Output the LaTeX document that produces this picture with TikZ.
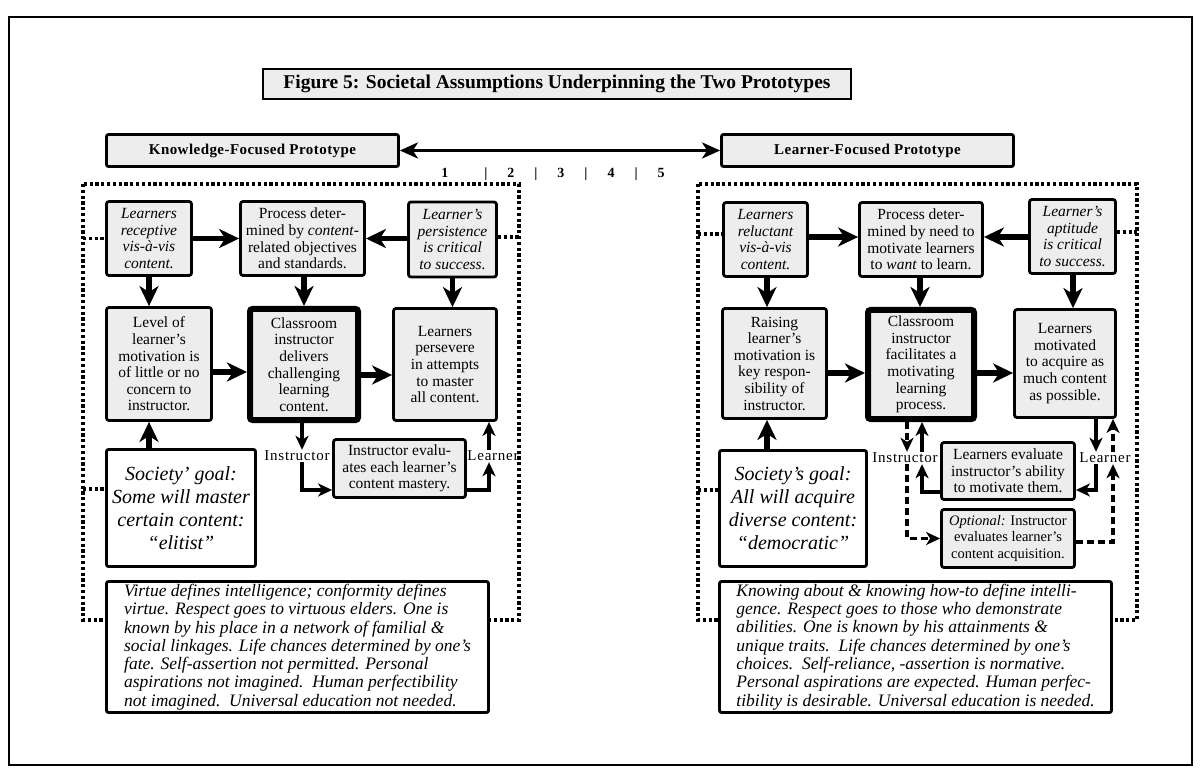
\documentclass[tikz,border=0pt]{standalone}
\usepackage{fontspec}
\setmainfont{Liberation Serif}
\usetikzlibrary{arrows.meta,calc}
\definecolor{boxgray}{gray}{0.93}
\newcommand\fsz[2]{\fontsize{#1pt}{#2pt}\selectfont}

\begin{document}
\begin{tikzpicture}[x=1pt,y=-1pt,
  box/.style={draw, line width=2.8pt, rounded corners=2.5pt, fill=boxgray,
    align=center, inner sep=1pt, font=\fsz{15.5}{16.6}},
  ibox/.style={box, font=\fsz{15.5}{16.6}\itshape},
  heavybox/.style={box, line width=6pt},
  goalbox/.style={draw, line width=2.8pt, rounded corners=2pt, fill=white,
    align=center, font=\fsz{20}{23}\itshape},
  notebox/.style={draw, line width=2.8pt, rounded corners=2pt, fill=white,
    align=left, inner sep=0pt, font=\fsz{17.5}{18.3}\itshape},
  header/.style={draw, line width=2.8pt, rounded corners=2pt, fill=boxgray,
    font=\fsz{15}{17}\bfseries\addfontfeature{LetterSpace=3}},
  tag/.style={inner sep=1pt, font=\fsz{15}{16}\addfontfeature{LetterSpace=5}},
  bigarrow/.style={line width=5.5pt, -{Stealth[length=20pt,width=19pt,inset=6pt]}},
  looparrow/.style={line width=3.5pt, -{Stealth[length=14pt,width=13pt,inset=4pt]}},
  dashloop/.style={looparrow, dash pattern=on 7pt off 4pt},
  boundary/.style={line width=3.2pt, dash pattern=on 3.2pt off 2.6pt},
]
\useasboundingbox (0,0) rectangle (1201,775);
\draw[line width=1.8pt] (9,17) rectangle (1192,765);

% title and the two prototype headers
\node[draw, line width=2pt, fill=boxgray, minimum width=588pt, minimum height=30pt,
  font=\fsz{19.5}{21}\bfseries] (title) at (557,84)
  {Figure 5: Societal Assumptions Underpinning the Two Prototypes};
\node[header, minimum width=292pt, minimum height=32pt] (kHead) at (252.5,150.5)
  {Knowledge-Focused Prototype};
\node[header, minimum width=292pt, minimum height=32pt] (lHead) at (867.5,150.5)
  {Learner-Focused Prototype};
\draw[line width=3.5pt, {Stealth[length=18pt,width=16pt,inset=5pt]}-{Stealth[length=18pt,width=16pt,inset=5pt]}]
  (kHead.east) -- (lHead.west);
\node[font=\fsz{14}{16}\bfseries] (scale) at (553,174)
  {1\hspace{36pt}|\hspace{20pt}2\hspace{20pt}|\hspace{20pt}3\hspace{20pt}|\hspace{20pt}4\hspace{20pt}|\hspace{20pt}5};

% ---------------- knowledge-focused panel ----------------
\draw[boundary] (83,184) rectangle (519,620);
\coordinate (kbl) at (83,0);
\coordinate (kbr) at (519,0);

\node[ibox, minimum width=85pt, minimum height=74pt] (kA) at (149,238.5)
  {Learners\\receptive\\vis-à-vis\\content.};
\node[box, minimum width=124pt, minimum height=74pt] (kB) at (302.5,238.5)
  {Process deter-\\mined by \textit{content}-\\related objectives\\and standards.};
\node[ibox, minimum width=88pt, minimum height=75pt] (kC) at (452.5,239.5)
  {Learner's\\persistence\\is critical\\to success.};
\node[box, minimum width=105pt, minimum height=113pt] (kD) at (159,364)
  {Level of\\learner's\\motivation is\\of little or no\\concern to\\instructor.};
\node[heavybox, minimum width=108pt, minimum height=111pt] (kE) at (304,364.5)
  {Classroom\\instructor\\delivers\\challenging\\learning\\content.};
\node[box, minimum width=103pt, minimum height=112pt] (kF) at (445,364.5)
  {Learners\\persevere\\in attempts\\to master\\all content.};
\node[box, minimum width=132pt, minimum height=58pt] (kG) at (399.5,468.5)
  {Instructor evalu-\\ates each learner's\\content mastery.};
\node[goalbox, minimum width=149pt, minimum height=117pt] (kH) at (181,508)
  {Society' goal:\\Some will master\\certain content:\\“elitist”};
\node[notebox, minimum width=382pt, minimum height=131pt] (kI) at (297.5,647)
  {Virtue defines intelligence; conformity defines\\
   virtue. Respect goes to virtuous elders. One is\\
   known by his place in a network of familial \&\\
   social linkages. Life chances determined by one's\\
   fate. Self-assertion not permitted. Personal\\
   aspirations not imagined.\ \ Human perfectibility\\
   not imagined.\ \ Universal education not needed.};
\node[tag] (kTi) at (297,456) {Instructor};
\node[tag] (kTl) at (493,456) {Learner};

\draw[boundary] (kbl |- kA.west) -- (kA.west);
\draw[boundary] (kC.east |- 0,237) -- (kbr |- 0,237);
\draw[boundary] (kbl |- 0,489) -- (kH.west |- 0,489);

\draw[bigarrow] (kA) -- (kB);
\draw[bigarrow] (kC.west |- kB.east) -- (kB.east);
\draw[bigarrow] (kA.south) -- (kA.south |- kD.north);
\draw[bigarrow] (kE.north |- kB.south) -- (kE.north);
\draw[bigarrow] (kC.south) -- (kC.south |- kF.north);
\draw[bigarrow] (kD.east |- 0,372) -- (kE.west |- 0,372);
\draw[bigarrow] (kE.east |- 0,375) -- (kF.west |- 0,375);
\draw[bigarrow] (kH.north -| kA.south) -- (kD.south -| kA.south);

\draw[looparrow] (kE.south -| 302,0) -- (kTi.north -| 302,0);
\draw[looparrow] (kTi.south -| 302,0) |- (kG.west |- 0,490);
\draw[looparrow] (kG.east |- 0,490) -| (kTl.south -| 489,0);
\draw[looparrow] (kTl.north -| 489,0) -- (kF.south -| 489,0);

% ---------------- learner-focused panel ----------------
\draw[boundary] (698,184) rectangle (1137,620);
\coordinate (lbl) at (698,0);
\coordinate (lbr) at (1137,0);

\node[ibox, minimum width=84pt, minimum height=74pt] (lA) at (765.5,239.5)
  {Learners\\reluctant\\vis-à-vis\\content.};
\node[box, minimum width=123pt, minimum height=74pt] (lB) at (921,239.5)
  {Process deter-\\mined by need to\\motivate learners\\to \textit{want} to learn.};
\node[ibox, minimum width=86pt, minimum height=74pt] (lC) at (1072.5,236.5)
  {Learner's\\aptitude\\is critical\\to success.};
\node[box, minimum width=104pt, minimum height=110pt] (lD) at (774.5,363.5)
  {Raising\\learner's\\motivation is\\key respon-\\sibility of\\instructor.};
\node[heavybox, minimum width=106pt, minimum height=109pt] (lE) at (921,364.5)
  {Classroom\\instructor\\facilitates a\\motivating\\learning\\process.};
\node[box, minimum width=101pt, minimum height=108pt] (lF) at (1065,363.5)
  {Learners\\motivated\\to acquire as\\much content\\as possible.};
\node[box, minimum width=133pt, minimum height=57pt] (lG) at (1008,471)
  {Learners evaluate\\instructor's ability\\to motivate them.};
\node[box, minimum width=133pt, minimum height=58pt, font=\fsz{14.5}{16.6}] (lH) at (1008,538.5)
  {\textit{Optional:} Instructor\\evaluates learner's\\content acquisition.};
\node[goalbox, minimum width=147pt, minimum height=116pt] (lJ) at (793,508.5)
  {Society's goal:\\All will acquire\\diverse content:\\“democratic”};
\node[notebox, minimum width=392pt, minimum height=131pt] (lK) at (915.5,647)
  {Knowing about \& knowing how-to define intelli-\\
   gence. Respect goes to those who demonstrate\\
   abilities. One is known by his attainments \&\\
   unique traits.\ \ Life chances determined by one's\\
   choices.\ \ Self-reliance, -assertion is normative.\\
   Personal aspirations are expected. Human perfec-\\
   tibility is desirable. Universal education is needed.};
\node[tag] (lTi) at (905,458) {Instructor};
\node[tag] (lTl) at (1105,458) {Learner};

\draw[boundary] (lbl |- 0,234) -- (lA.west |- 0,234);
\draw[boundary] (lC.east |- 0,232) -- (lbr |- 0,232);
\draw[boundary] (lbl |- 0,490) -- (lJ.west |- 0,490);

\draw[bigarrow] (lA.east |- 0,237) -- (lB.west |- 0,237);
\draw[bigarrow] (lC.west |- 0,237) -- (lB.east |- 0,237);
\draw[bigarrow] (lA.south -| 767,0) -- (lD.north -| 767,0);
\draw[bigarrow] (lB.south -| 920,0) -- (lE.north -| 920,0);
\draw[bigarrow] (lC.south -| 1073,0) -- (lF.north -| 1073,0);
\draw[bigarrow] (lD.east |- 0,373) -- (lE.west |- 0,373);
\draw[bigarrow] (lE.east |- 0,373) -- (lF.west |- 0,373);
\draw[bigarrow] (lJ.north -| 767,0) -- (lD.south -| 767,0);

\draw[dashloop] (lE.south -| 907,0) -- (lTi.north -| 907,0);
\draw[dashloop] (lTi.south -| 907,0) |- (lH.west);
\draw[looparrow] (lG.west |- 0,492) -| (lTi.south -| 922,0);
\draw[looparrow] (lTi.north -| 922,0) -- (lE.south -| 922,0);
\draw[looparrow] (lF.south -| 1096,0) -- (lTl.north -| 1096,0);
\draw[looparrow] (lTl.south -| 1096,0) |- (lG.east |- 0,490);
\draw[dashloop] (lH.east |- 0,542) -| (lTl.south -| 1113,0);
\draw[dashloop] (lTl.north -| 1113,0) -- (lF.south -| 1113,0);
\end{tikzpicture}
\end{document}
